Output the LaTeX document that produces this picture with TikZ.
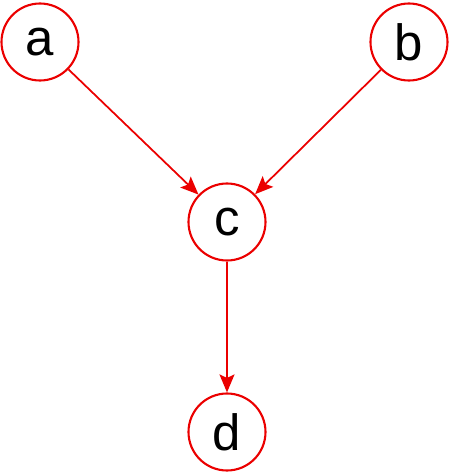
\documentclass[tikz,border=0pt]{standalone}
\usepackage{fontspec}
\setmainfont{Liberation Sans}
\usetikzlibrary{arrows.meta}

\begin{document}
\begin{tikzpicture}[
				roundnode/.style={circle, draw=red!92!black, line width=1.2pt, minimum size=1.54cm, inner sep=0pt, font=\fontsize{29}{35}\selectfont},
				edge/.style={draw=red!92!black, line width=1pt, -{Stealth[length=0.36cm, width=0.3cm, inset=0.07cm]}}
			]

			\useasboundingbox (0, 0) rectangle (9, 9.46);

			\node[roundnode] (a) at (0.8, 8.62) {a};
			\node[roundnode] (b) at (8.18, 8.62) {b};
			\node[roundnode] (c) at (4.54, 5.02) {c};
			\node[roundnode] (d) at (4.54, 0.82) {d};

			\draw[edge] (a) -- (c);
			\draw[edge] (b) -- (c);
			\draw[edge] (c) -- (d);

		\end{tikzpicture}
\end{document}
